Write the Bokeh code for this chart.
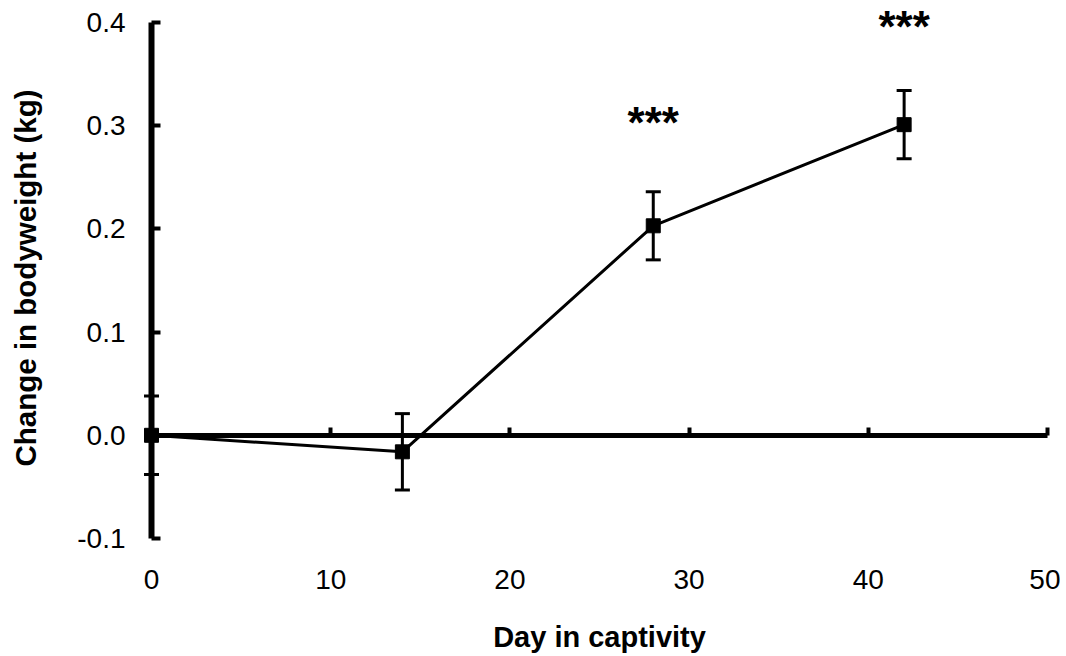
from bokeh.plotting import figure
from bokeh.models import (ColumnDataSource, FixedTicker, LinearAxis, Range1d, Whisker,
                          TeeHead, NumeralTickFormatter, CustomJSTickFormatter)
from bokeh.core.properties import value
from bokeh.embed import file_html
from bokeh.resources import INLINE

# ---- data ----
days = [0, 14, 28, 42]
mean_change = [0.0, -0.016, 0.203, 0.301]
sem = [0.038, 0.037, 0.033, 0.033]

sig_x = [28, 42]
sig_y = [0.303, 0.396]
sig_label = ["***", "***"]

x_ticks = [0, 10, 20, 30, 40, 50]
y_ticks = [-0.1, 0.0, 0.1, 0.2, 0.3, 0.4]

FONT = "Liberation Sans"

src = ColumnDataSource(dict(
    x=days, y=mean_change,
    upper=[m + e for m, e in zip(mean_change, sem)],
    lower=[m - e for m, e in zip(mean_change, sem)],
))

p = figure(width=1060, height=655, output_backend="svg", toolbar_location=None,
           x_range=Range1d(-0.447, 50.447), y_range=Range1d(-0.10678, 0.41163),
           min_border_left=143, min_border_right=5, min_border_top=10, min_border_bottom=110)
p.outline_line_color = None
p.grid.visible = False
p.background_fill_color = "white"
p.border_fill_color = "white"

empty = CustomJSTickFormatter(code="return ''")

# left axis: tick labels and title only
ya = p.yaxis[0]
ya.ticker = FixedTicker(ticks=y_ticks)
ya.bounds = (-0.1, 0.4)
ya.formatter = NumeralTickFormatter(format="0.0")
ya.axis_line_color = None
ya.major_tick_line_color = None
ya.minor_tick_line_color = None
ya.major_tick_in = 0
ya.major_tick_out = 0
ya.major_label_standoff = 18
ya.major_label_text_font = FONT
ya.major_label_text_font_size = "28px"
ya.major_label_text_color = "black"
ya.axis_label = "Change in bodyweight (kg)"
ya.axis_label_text_font = FONT
ya.axis_label_text_font_size = "29.5px"
ya.axis_label_text_font_style = "bold"
ya.axis_label_text_color = "black"
ya.axis_label_standoff = 32

# y axis line drawn at x = 0 with inward ticks
y0 = LinearAxis(fixed_location=0, bounds=(-0.1, 0.4), ticker=FixedTicker(ticks=y_ticks),
                formatter=empty, major_tick_in=9, major_tick_out=0, major_label_standoff=0,
                major_label_text_font_size="1px",
                axis_line_width=6, major_tick_line_width=4, minor_tick_line_color=None)
p.add_layout(y0, "left")

# bottom axis: tick labels and title only
xa = p.xaxis[0]
xa.ticker = FixedTicker(ticks=x_ticks)
xa.bounds = (0, 50)
xa.axis_line_color = None
xa.major_tick_line_color = None
xa.minor_tick_line_color = None
xa.major_tick_in = 0
xa.major_tick_out = 0
xa.major_label_standoff = 24
xa.major_label_text_font = FONT
xa.major_label_text_font_size = "28px"
xa.major_label_text_color = "black"
xa.axis_label = "Day in captivity"
xa.axis_label_text_font = FONT
xa.axis_label_text_font_size = "29px"
xa.axis_label_text_font_style = "bold"
xa.axis_label_text_color = "black"
xa.axis_label_standoff = 29

# x axis line at y = 0 with upward ticks
x0 = LinearAxis(fixed_location=0, bounds=(0, 50), ticker=FixedTicker(ticks=x_ticks),
                formatter=empty, major_tick_in=8, major_tick_out=0, major_label_standoff=0,
                major_label_text_font_size="1px",
                axis_line_width=5, major_tick_line_width=4, minor_tick_line_color=None)
p.add_layout(x0, "below")

# error bars
p.add_layout(Whisker(source=src, base="x", upper="upper", lower="lower",
                     dimension="height", line_width=3, line_color="black",
                     upper_head=TeeHead(size=15, line_width=3, line_color="black"),
                     lower_head=TeeHead(size=15, line_width=3, line_color="black")))

p.line("x", "y", source=src, line_width=3, line_color="black")
p.scatter("x", "y", source=src, marker="square", size=14,
          fill_color="black", line_color="black")

p.text(x=sig_x, y=sig_y, text=sig_label, text_font=value(FONT),
       text_font_style="bold", text_font_size="44px", text_align="center",
       text_baseline="alphabetic", text_color="black")

open("out.html", "w").write(file_html(p, INLINE))
